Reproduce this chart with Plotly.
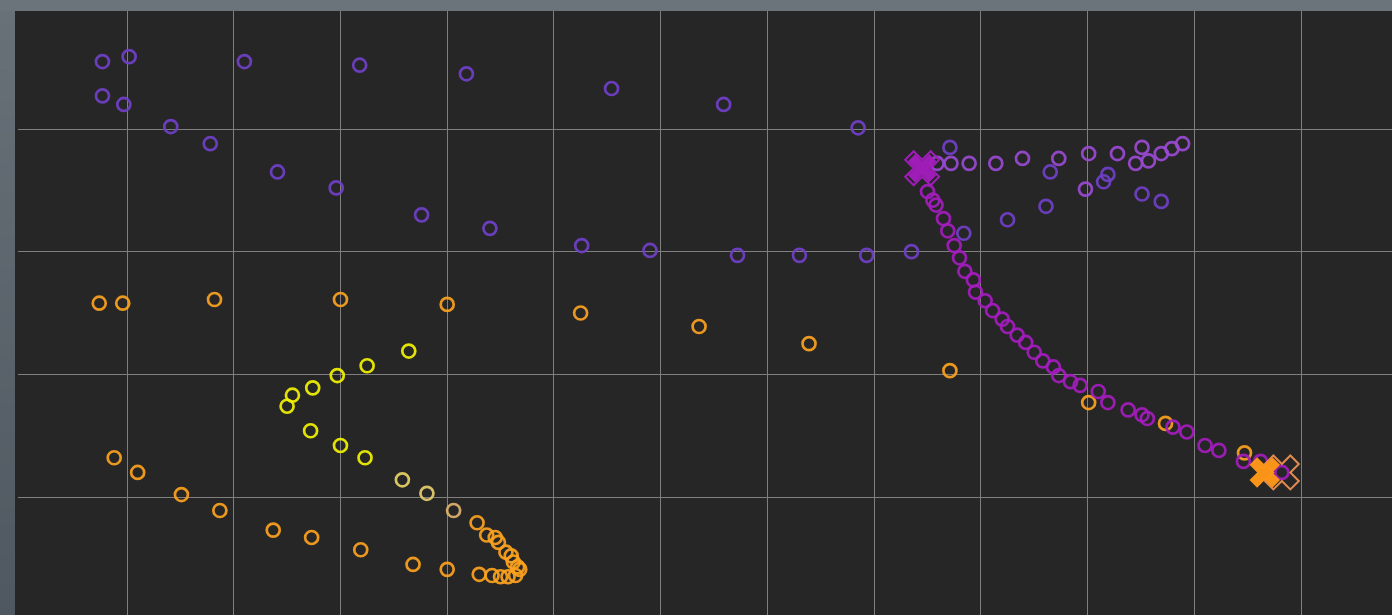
import plotly.graph_objects as go

# --- data (axis units: x grid at integers 1..12, y grid at integers 1..4) ---
blue_x = [0.77, 1.02, 2.10, 3.18, 4.18, 5.54, 6.59, 7.85, 8.71,
          0.77, 0.97, 1.41, 1.78, 2.41, 2.96, 3.76, 4.40, 5.26, 5.90, 6.72, 7.30, 7.93,
          8.35, 8.84, 9.25, 9.61, 9.65, 10.15, 10.19, 10.51, 10.69]
blue_y = [4.55, 4.59, 4.55, 4.52, 4.45, 4.33, 4.20, 4.01, 3.85,
          4.27, 4.20, 4.02, 3.88, 3.65, 3.52, 3.30, 3.19, 3.05, 3.01, 2.97, 2.97, 2.97,
          3.00, 3.15, 3.26, 3.37, 3.65, 3.57, 3.63, 3.47, 3.41]

lilac_x = [8.59, 8.72, 8.89, 9.14, 9.39, 9.73, 10.01, 10.28, 10.51, 10.45, 10.57,
           10.69, 10.79, 10.89, 9.98]
lilac_y = [3.72, 3.72, 3.72, 3.72, 3.76, 3.76, 3.80, 3.80, 3.85, 3.72, 3.74,
           3.80, 3.84, 3.88, 3.51]

magenta_x = [8.50, 8.55, 8.58, 8.65, 8.69, 8.75, 8.80, 8.85, 8.93, 8.95, 9.04, 9.11,
             9.20, 9.25, 9.34, 9.42, 9.50, 9.58, 9.68, 9.73, 9.84, 9.93, 10.10, 10.19,
             10.38, 10.51, 10.56, 10.80, 10.93, 11.10, 11.23, 11.46, 11.62, 11.82]
magenta_y = [3.49, 3.42, 3.38, 3.27, 3.17, 3.05, 2.95, 2.84, 2.77, 2.67, 2.60, 2.52,
             2.45, 2.39, 2.32, 2.26, 2.18, 2.11, 2.06, 1.99, 1.94, 1.91, 1.86, 1.77,
             1.71, 1.67, 1.64, 1.57, 1.53, 1.42, 1.38, 1.29, 1.29, 1.20]

orange_top_x = [0.74, 0.96, 1.82, 3.00, 4.00, 5.25, 6.36, 7.39, 8.71, 10.01, 10.73, 11.47]
orange_top_y = [2.58, 2.58, 2.61, 2.61, 2.57, 2.50, 2.39, 2.25, 2.03, 1.77, 1.60, 1.36]

yellow_x = [3.64, 3.25, 2.97, 2.74, 2.55, 2.50, 2.72, 3.00, 3.23]
yellow_y = [2.19, 2.07, 1.99, 1.89, 1.83, 1.74, 1.54, 1.42, 1.32]

fade_x = [3.58, 3.81, 4.06]
fade_y = [1.14, 1.03, 0.89]
fade_colors = ["#e8d262", "#e6cc6c", "#e0b26c"]

orange_low_x = [4.28, 4.37, 4.45, 4.48, 4.55, 4.60, 4.62, 4.66, 4.68, 4.64, 4.57, 4.50,
                4.42, 4.30, 4.00, 3.68, 3.19, 2.73, 2.37, 1.87, 1.51, 1.10, 0.88]
orange_low_y = [0.79, 0.69, 0.67, 0.63, 0.55, 0.52, 0.47, 0.43, 0.41, 0.36, 0.35, 0.35,
                0.36, 0.37, 0.41, 0.45, 0.57, 0.67, 0.73, 0.89, 1.02, 1.20, 1.32]

start_x, start_y = [8.45], [3.68]
end_x, end_y = [11.66], [1.20]
end_open_x, end_open_y = [11.82], [1.20]

BLUE = "#7040c8"
LILAC = "#9a4ad2"
MAGENTA = "#a41cbe"
ORANGE = "#fba21e"
YELLOW = "#f2f200"
SALMON = "#ec9050"

fig = go.Figure()


def rings(x, y, color, name):
    fig.add_trace(go.Scatter(
        x=x, y=y, mode="markers", name=name, showlegend=False,
        marker=dict(symbol="circle-open", size=13, color=color, opacity=0.92,
                    line=dict(width=2.7, color=color)),
    ))


rings(blue_x, blue_y, BLUE, "blue")
rings(lilac_x, lilac_y, LILAC, "lilac")
rings(orange_top_x, orange_top_y, ORANGE, "orange_top")
rings(yellow_x, yellow_y, YELLOW, "yellow")
rings(fade_x, fade_y, fade_colors, "fade")
rings(orange_low_x, orange_low_y, ORANGE, "orange_low")
rings(magenta_x, magenta_y, MAGENTA, "magenta")

# start marker (purple X)
fig.add_trace(go.Scatter(x=start_x, y=start_y, mode="markers", showlegend=False,
                         marker=dict(symbol="x", size=25, color=MAGENTA, opacity=0.95,
                                     line=dict(width=0))))
fig.add_trace(go.Scatter(x=start_x, y=start_y, mode="markers", showlegend=False,
                         marker=dict(symbol="x-open", size=30, color=MAGENTA, opacity=0.95,
                                     line=dict(width=2, color=MAGENTA))))
# end markers
fig.add_trace(go.Scatter(x=end_open_x, y=end_open_y, mode="markers", showlegend=False,
                         marker=dict(symbol="x-open", size=30, color=SALMON, opacity=0.95,
                                     line=dict(width=2, color=SALMON))))
fig.add_trace(go.Scatter(x=end_x, y=end_y, mode="markers", showlegend=False,
                         marker=dict(symbol="x", size=27, color="#ff9818", opacity=0.97,
                                     line=dict(width=0))))

axis_common = dict(showticklabels=False, zeroline=False, showline=False,
                   gridcolor="#7f7f7f", gridwidth=1, ticks="")
fig.update_xaxes(range=[-0.0213, 12.852], tickvals=list(range(1, 13)), **axis_common)
fig.update_yaxes(range=[0.038, 4.962], tickvals=[1, 2, 3, 4], **axis_common)

# frame decoration: dark sliver left of the grid, and a vertical gradient on the left strip
W, H, L, T = 1392, 615, 18, 11
pw, ph = W - L, H - T
shapes = [dict(type="rect", xref="paper", yref="paper", x0=-3 / pw, x1=0, y0=0, y1=1,
               fillcolor="#262626", line=dict(width=0), layer="below")]
top_rgb, bot_rgb = (0x68, 0x70, 0x78), (0x4f, 0x58, 0x60)
nb = 40
for i in range(nb):
    t = (i + 0.5) / nb
    c = tuple(round(top_rgb[k] + (bot_rgb[k] - top_rgb[k]) * t) for k in range(3))
    y1 = 1 - i / nb
    y0 = 1 - (i + 1) / nb
    shapes.append(dict(type="rect", xref="paper", yref="paper",
                       x0=-L / pw, x1=-3 / pw, y0=y0 - 0.001, y1=y1,
                       fillcolor="rgb(%d,%d,%d)" % c, line=dict(width=0), layer="below"))

fig.update_layout(
    width=W, height=H,
    margin=dict(l=L, r=0, t=T, b=0, pad=0),
    paper_bgcolor="#6b737b",
    plot_bgcolor="#262626",
    showlegend=False,
    shapes=shapes,
)

fig.write_html("out.html")
